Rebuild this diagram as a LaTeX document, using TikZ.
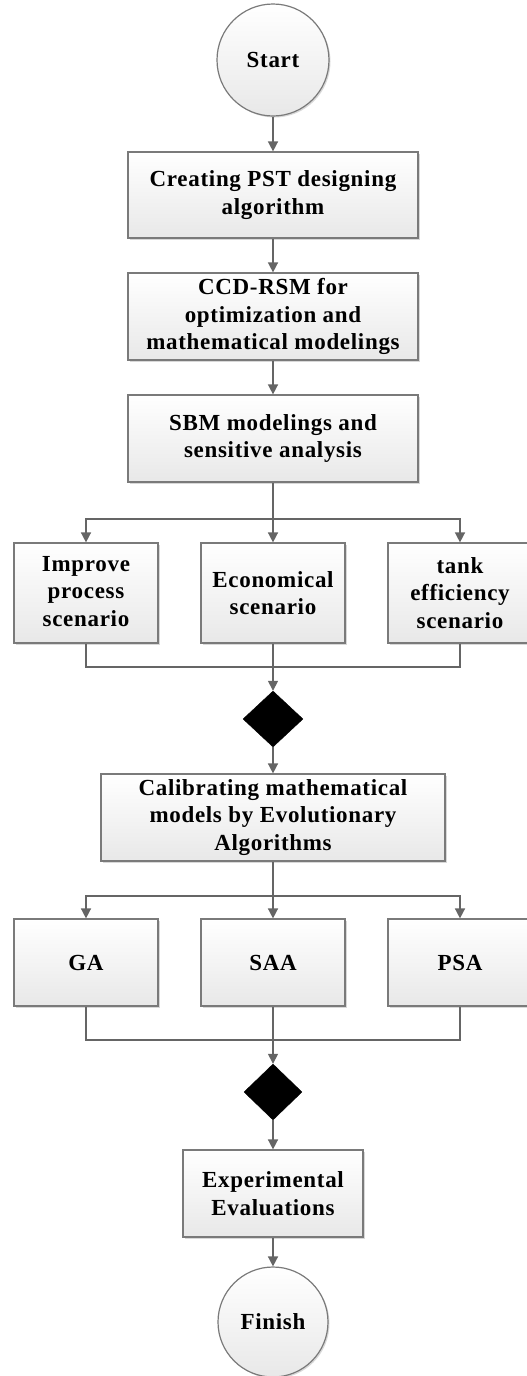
\documentclass[tikz,border=0pt]{standalone}
\usepackage{fontspec}
\setmainfont{Liberation Serif}[LetterSpace=3]
\usetikzlibrary{arrows.meta,shapes.geometric,shadows}
\definecolor{edge}{HTML}{656565}
\definecolor{bord}{HTML}{7A7A7A}
\definecolor{boxbot}{HTML}{E8E8E8}
\tikzset{
 base/.style={draw=bord, line width=1.2pt, top color=white, bottom color=boxbot,
   drop shadow={shadow xshift=1.5pt, shadow yshift=-1.5pt, fill=black!30, opacity=0.5},
   font=\bfseries\fontsize{23}{27.5}\selectfont, align=center, inner sep=0pt},
 proc/.style={base, rectangle, minimum width=290pt, minimum height=86pt},
 small/.style={base, rectangle, minimum width=144pt, minimum height=100pt},
 term/.style={base, circle, minimum size=112pt},
 gate/.style={diamond, fill=black, draw=black, minimum width=60pt, minimum height=56pt, inner sep=0pt},
 conn/.style={draw=edge, line width=1.5pt},
 arr/.style={conn, -{Triangle[length=10pt,width=10pt]}},
}
\begin{document}
\begin{tikzpicture}[x=1pt,y=-1pt]
\useasboundingbox (0,0) rectangle (527,1376);
\node[term] (start) at (273,60) {Start};
\node[proc] (create) at (273,195) {Creating PST designing\\algorithm};
\node[proc, minimum height=87pt] (ccd) at (273,316.5) {CCD-RSM for\\optimization and\\mathematical modelings};
\node[proc, minimum height=87pt] (sbm) at (273,438.5) {SBM modelings and\\sensitive analysis};
\coordinate (s1) at (273,519);
\node[small] (imp) at (86,593) {\raisebox{8pt}{\begin{tabular}{@{}c@{}}Improve\\process\\scenario\end{tabular}}};
\node[small] (eco) at (273,593) {Economical\\scenario};
\node[small] (tank) at (460,593) {tank\\efficiency\\scenario};
\coordinate (m1) at (273,667);
\node[gate] (d1) at (273,719) {};
\node[proc, minimum width=344pt, minimum height=87pt] (cal) at (273,817.5) {Calibrating mathematical\\models by Evolutionary\\Algorithms};
\coordinate (s2) at (273,896);
\node[small, minimum height=87pt] (ga) at (86,962.5) {GA};
\node[small, minimum height=87pt] (saa) at (273,962.5) {SAA};
\node[small, minimum height=87pt] (psa) at (460,962.5) {PSA};
\coordinate (m2) at (273,1040);
\node[gate, minimum width=58pt] (d2) at (273,1092) {};
\node[proc, minimum width=180pt, minimum height=87pt] (exp) at (273,1193.5) {Experimental\\Evaluations};
\node[term, minimum size=110pt] (fin) at (273,1322) {Finish};

\draw[arr] (start) -- (create);
\draw[arr] (create) -- (ccd);
\draw[arr] (ccd) -- (sbm);
\draw[conn] (sbm) -- (s1);
\draw[arr] (s1) -| (imp.north);
\draw[arr] (s1) -- (eco.north);
\draw[arr] (s1) -| (tank.north);
\draw[conn] (imp.south) |- (m1);
\draw[conn] (tank.south) |- (m1);
\draw[arr] (eco.south) -- (d1.north);
\draw[arr] (d1) -- (cal);
\draw[conn] (cal) -- (s2);
\draw[arr] (s2) -| (ga.north);
\draw[arr] (s2) -- (saa.north);
\draw[arr] (s2) -| (psa.north);
\draw[conn] (ga.south) |- (m2);
\draw[conn] (psa.south) |- (m2);
\draw[arr] (saa.south) -- (d2.north);
\draw[arr] (d2) -- (exp);
\draw[arr] (exp) -- (fin);
\end{tikzpicture}
\end{document}
